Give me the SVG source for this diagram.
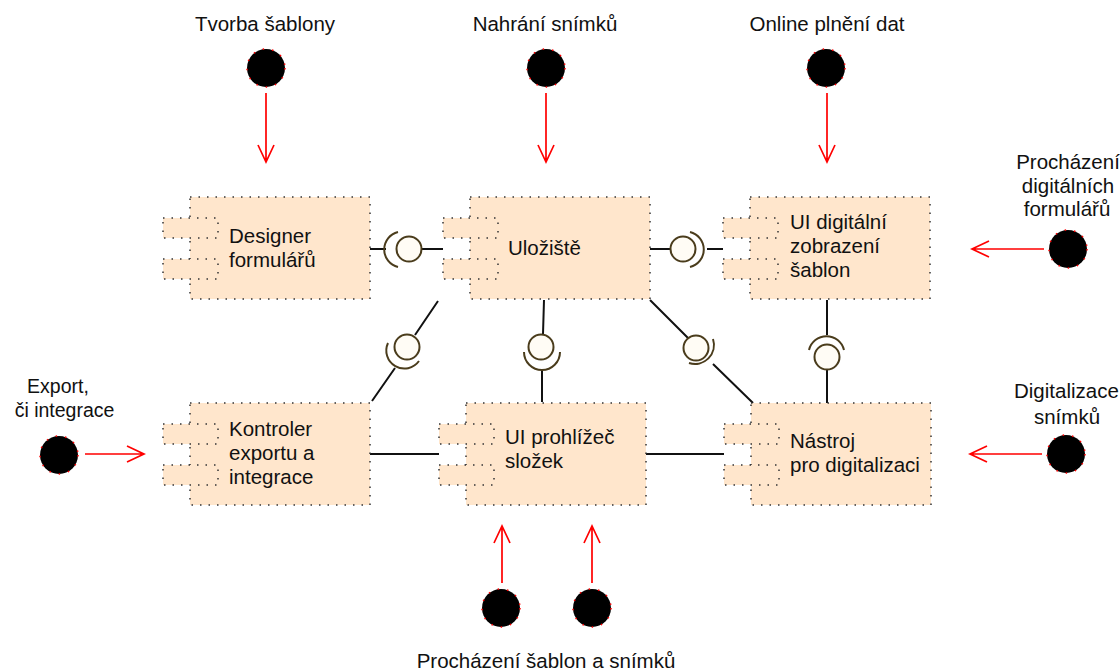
<svg xmlns="http://www.w3.org/2000/svg" width="1120" height="671" viewBox="0 0 1120 671">
<style>
text{font-family:"Liberation Sans",Arial,sans-serif;font-size:20.5px;fill:#111;text-anchor:middle}
.t{text-anchor:start}
.e{font-size:19.5px}
.b{fill:#ffe6cc;stroke:#333;stroke-width:1.5;stroke-dasharray:1.5 7}
.l{fill:none;stroke:#111;stroke-width:2}
.c{fill:#fffcf5;stroke:#4a3c1c;stroke-width:2}
.s{fill:none;stroke:#4a3c1c;stroke-width:2}
.a{fill:none;stroke:#f00;stroke-width:1.7}
.d{fill:#000;stroke:#f00;stroke-width:1.5;stroke-dasharray:1.5 8}
</style>
<defs>
<g id="comp">
<rect class="b" x="27" y="0" width="180" height="102"/>
<rect class="b" x="0" y="21" width="55" height="20"/>
<rect class="b" x="0" y="62" width="55" height="20"/>
</g>
<path id="arr" class="a" d="M0 0V69M-8 52L0 69L8 52"/>
</defs>
<g id="connectors">
<path class="l" d="M370 249H386M422 249H443"/>
<path class="l" d="M650 249H671M707 249H723"/>
<path class="l" d="M438 301L415 335M395 368L372 401"/>
<path class="l" d="M544 300L543 334M542 369V402"/>
<path class="l" d="M650 300L688 338M713 364L753 403"/>
<path class="l" d="M827 300V335M827 370V403"/>
<path class="l" d="M370 454H439"/>
<path class="l" d="M646 454H724"/>
<circle class="c" cx="409" cy="249" r="12.5"/><path class="s" d="M398 232A18 18 0 0 0 398 267"/>
<circle class="c" cx="683" cy="249" r="12.5"/><path class="s" d="M690 232A18 18 0 0 1 690 267"/>
<circle class="c" cx="407" cy="347" r="12.5"/><path class="s" d="M388 343A18 18 0 0 0 419 361"/>
<circle class="c" cx="541" cy="347" r="12.5"/><path class="s" d="M524 352A18 18 0 0 0 560 352"/>
<circle class="c" cx="696" cy="348" r="12.5"/><path class="s" d="M713 339A19 19 0 0 1 689 363"/>
<circle class="c" cx="827" cy="357" r="12.5"/><path class="s" d="M809 350A18 18 0 0 1 844 350"/>
</g>
<g id="designer"><use href="#comp" x="163" y="197"/><text class="t" x="229" y="243">Designer</text><text class="t" x="229" y="267">formulářů</text></g>
<g id="uloziste"><use href="#comp" x="443" y="197"/><text class="t" x="508" y="255">Uložiště</text></g>
<g id="ui-digital"><use href="#comp" x="723" y="197"/><text class="t" x="790" y="229">UI digitální</text><text class="t" x="790" y="253">zobrazení</text><text class="t" x="790" y="277">šablon</text></g>
<g id="kontroler"><use href="#comp" x="163" y="403"/><text class="t" x="229" y="436">Kontroler</text><text class="t" x="229" y="460">exportu a</text><text class="t" x="229" y="484">integrace</text></g>
<g id="ui-prohlizec"><use href="#comp" x="439" y="403"/><text class="t" x="505" y="444">UI prohlížeč</text><text class="t" x="505" y="468">složek</text></g>
<g id="nastroj"><use href="#comp" x="724" y="403"/><text class="t" x="790" y="448">Nástroj</text><text class="t" x="790" y="472">pro digitalizaci</text></g>
<g id="actors">
<circle class="d" cx="266" cy="68" r="19"/><text x="265" y="31">Tvorba šablony</text><use href="#arr" x="266" y="93"/>
<circle class="d" cx="546" cy="68" r="19"/><text x="545" y="31">Nahrání snímků</text><use href="#arr" x="546" y="93"/>
<circle class="d" cx="826" cy="68" r="19"/><text x="827" y="31">Online plnění dat</text><use href="#arr" x="827" y="93"/>
<circle class="d" cx="1068" cy="249" r="19"/><text x="1068" y="169">Procházení</text><text x="1068" y="193">digitálních</text><text x="1067" y="216">formulářů</text><path class="a" d="M1044 249H972M989 241L972 249L989 257"/>
<circle class="d" cx="1066" cy="454" r="19"/><text class="t" x="1014" y="398">Digitalizace</text><text x="1067" y="424">snímků</text><path class="a" d="M1042 454H970M987 446L970 454L987 462"/>
<circle class="d" cx="59" cy="455" r="19"/><text class="e" x="58" y="393">Export,</text><text class="e" x="64.500" y="417">či integrace</text><path class="a" d="M85 454H144M127 446L144 454L127 462"/>
<circle class="d" cx="501" cy="608" r="19"/><circle class="d" cx="592" cy="608" r="19"/>
<path class="a" d="M502 583V526M494 543L502 526L510 543"/><path class="a" d="M592 583V526M584 543L592 526L600 543"/>
<text x="546" y="668">Procházení šablon a snímků</text>
</g>
</svg>
